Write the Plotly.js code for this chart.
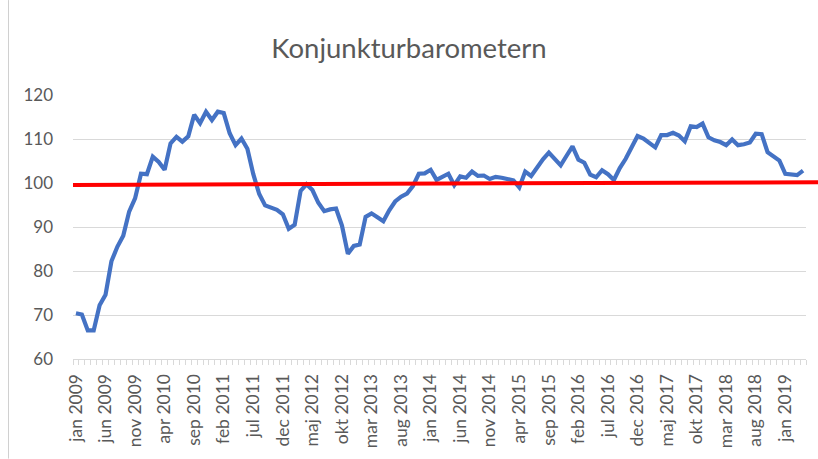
<!DOCTYPE html>
<html>
<head>
<meta charset="utf-8">
<script src="https://cdn.plot.ly/plotly-3.0.1.min.js"></script>
<style>
  html, body { margin: 0; padding: 0; background: #ffffff; }
  #chart { width: 818px; height: 459px; }
</style>
</head>
<body>
<div id="chart"></div>
<script>
// Category labels (Swedish month abbreviations), jan 2009 – apr 2019
const months = [
  "jan 2009","feb 2009","mar 2009","apr 2009","maj 2009","jun 2009","jul 2009","aug 2009","sep 2009","okt 2009","nov 2009","dec 2009",
  "jan 2010","feb 2010","mar 2010","apr 2010","maj 2010","jun 2010","jul 2010","aug 2010","sep 2010","okt 2010","nov 2010","dec 2010",
  "jan 2011","feb 2011","mar 2011","apr 2011","maj 2011","jun 2011","jul 2011","aug 2011","sep 2011","okt 2011","nov 2011","dec 2011",
  "jan 2012","feb 2012","mar 2012","apr 2012","maj 2012","jun 2012","jul 2012","aug 2012","sep 2012","okt 2012","nov 2012","dec 2012",
  "jan 2013","feb 2013","mar 2013","apr 2013","maj 2013","jun 2013","jul 2013","aug 2013","sep 2013","okt 2013","nov 2013","dec 2013",
  "jan 2014","feb 2014","mar 2014","apr 2014","maj 2014","jun 2014","jul 2014","aug 2014","sep 2014","okt 2014","nov 2014","dec 2014",
  "jan 2015","feb 2015","mar 2015","apr 2015","maj 2015","jun 2015","jul 2015","aug 2015","sep 2015","okt 2015","nov 2015","dec 2015",
  "jan 2016","feb 2016","mar 2016","apr 2016","maj 2016","jun 2016","jul 2016","aug 2016","sep 2016","okt 2016","nov 2016","dec 2016",
  "jan 2017","feb 2017","mar 2017","apr 2017","maj 2017","jun 2017","jul 2017","aug 2017","sep 2017","okt 2017","nov 2017","dec 2017",
  "jan 2018","feb 2018","mar 2018","apr 2018","maj 2018","jun 2018","jul 2018","aug 2018","sep 2018","okt 2018","nov 2018","dec 2018",
  "jan 2019","feb 2019","mar 2019","apr 2019"
];

// Konjunkturbarometern values
const barometer = [
  70.4, 70.1, 66.5, 66.5, 72.2, 74.6, 82.2, 85.5, 88.0, 93.5, 96.5, 102.1,
  102.0, 106.0, 104.8, 103.0, 109.0, 110.5, 109.4, 110.6, 115.5, 113.6, 116.2, 114.3,
  116.2, 115.9, 111.3, 108.6, 110.1, 107.8, 102.0, 97.5, 94.9, 94.3, 93.9, 92.9,
  89.6, 90.5, 98.2, 99.7, 98.4, 95.5, 93.6, 94.0, 94.2, 90.3, 83.9, 85.7,
  86.0, 92.3, 93.1, 92.2, 91.3, 93.8, 95.8, 96.9, 97.6, 99.3, 102.1, 102.2,
  103.0, 100.7, 101.3, 102.1, 99.5, 101.5, 101.2, 102.6, 101.6, 101.7, 100.9, 101.4,
  101.2, 101.0, 100.6, 99.0, 102.6, 101.6, 103.7, 105.4, 106.9, 105.3, 104.0, 106.2,
  108.3, 105.3, 104.6, 101.9, 101.3, 102.9, 102.0, 100.7, 103.4, 105.5, 108.0, 110.7,
  110.1, 109.0, 108.1, 110.9, 110.9, 111.4, 110.8, 109.5, 112.9, 112.7, 113.5, 110.4,
  109.7, 109.3, 108.6, 109.9, 108.6, 108.8, 109.2, 111.2, 111.1, 107.0, 106.0, 105.1,
  102.1, 102.0, 101.8, 102.8
];

// Labelled categories on the x axis (every fifth month)
const tickLabels = [
  "jan 2009","jun 2009","nov 2009","apr 2010","sep 2010","feb 2011","jul 2011","dec 2011",
  "maj 2012","okt 2012","mar 2013","aug 2013","jan 2014","jun 2014","nov 2014","apr 2015",
  "sep 2015","feb 2016","jul 2016","dec 2016","maj 2017","okt 2017","mar 2018","aug 2018","jan 2019"
];

// Red reference line (hand-drawn, slightly sloped around 100)
const refLine = { start: 99.57, end: 100.18 };

const yTicks = [60, 70, 80, 90, 100, 110, 120];

const xIdx = months.map((_, i) => i);
const tickIdx = tickLabels.map(l => months.indexOf(l));

const FONT = "Lato, 'Open Sans', sans-serif";
const TXT = "#595959";
const GRID = "#D9D9D9";

// plot area in pixels (for paper-referenced decorations)
const PA = { left: 73, width: 733, top: 95, height: 264.3 };

const trace = {
  x: xIdx,
  y: barometer,
  text: months,
  type: "scatter",
  mode: "lines",
  line: { color: "#4472C4", width: 4.2, shape: "linear" },
  hovertemplate: "%{text}: %{y}<extra></extra>",
  showlegend: false
};

const layout = {
  width: 818,
  height: 459,
  margin: { l: 73, r: 12, t: 95, b: 100, pad: 0 },
  paper_bgcolor: "#ffffff",
  plot_bgcolor: "#ffffff",
  font: { family: FONT, color: TXT, size: 17 },
  title: {
    text: "Konjunkturbarometern",
    font: { family: FONT, size: 27.5, color: TXT },
    xref: "container", x: 0.5, xanchor: "center",
    yref: "container", y: 1 - 48 / 459, yanchor: "middle"
  },
  xaxis: {
    type: "linear",
    range: [-0.5, months.length - 0.5],
    tickmode: "array",
    tickvals: tickIdx,
    ticktext: tickLabels,
    tickangle: -90,
    ticks: "",
    ticklabelstandoff: 7,
    tickfont: { family: FONT, size: 17.5, color: TXT },
    showgrid: false,
    zeroline: false,
    showline: true,
    linecolor: GRID,
    linewidth: 1,
    minor: { ticks: "outside", ticklen: 5, tickcolor: GRID, tickwidth: 1, dtick: 1, tick0: -0.5, showgrid: false },
    fixedrange: true
  },
  yaxis: {
    range: [60, 120],
    tickmode: "array",
    tickvals: yTicks,
    ticks: "",
    ticklabelstandoff: 19,
    tickfont: { family: FONT, size: 17, color: TXT },
    showgrid: true,
    gridcolor: GRID,
    gridwidth: 1,
    zeroline: false,
    showline: false,
    fixedrange: true
  },
  shapes: [
    {
      // chart-area border (left edge visible in the screenshot)
      type: "line",
      xref: "paper", yref: "paper",
      x0: (8.5 - PA.left) / PA.width, x1: (8.5 - PA.left) / PA.width,
      y0: (PA.top + PA.height - 459) / PA.height, y1: (PA.top + PA.height) / PA.height,
      line: { color: "#D0D0D0", width: 1 }
    },
    {
      type: "line",
      xref: "paper", yref: "y",
      x0: 0, x1: (818 - PA.left) / PA.width,
      y0: refLine.start, y1: refLine.end,
      line: { color: "#FF0000", width: 4 }
    }
  ]
};

Plotly.newPlot("chart", [trace], layout, { displayModeBar: false, staticPlot: true });
</script>
</body>
</html>
